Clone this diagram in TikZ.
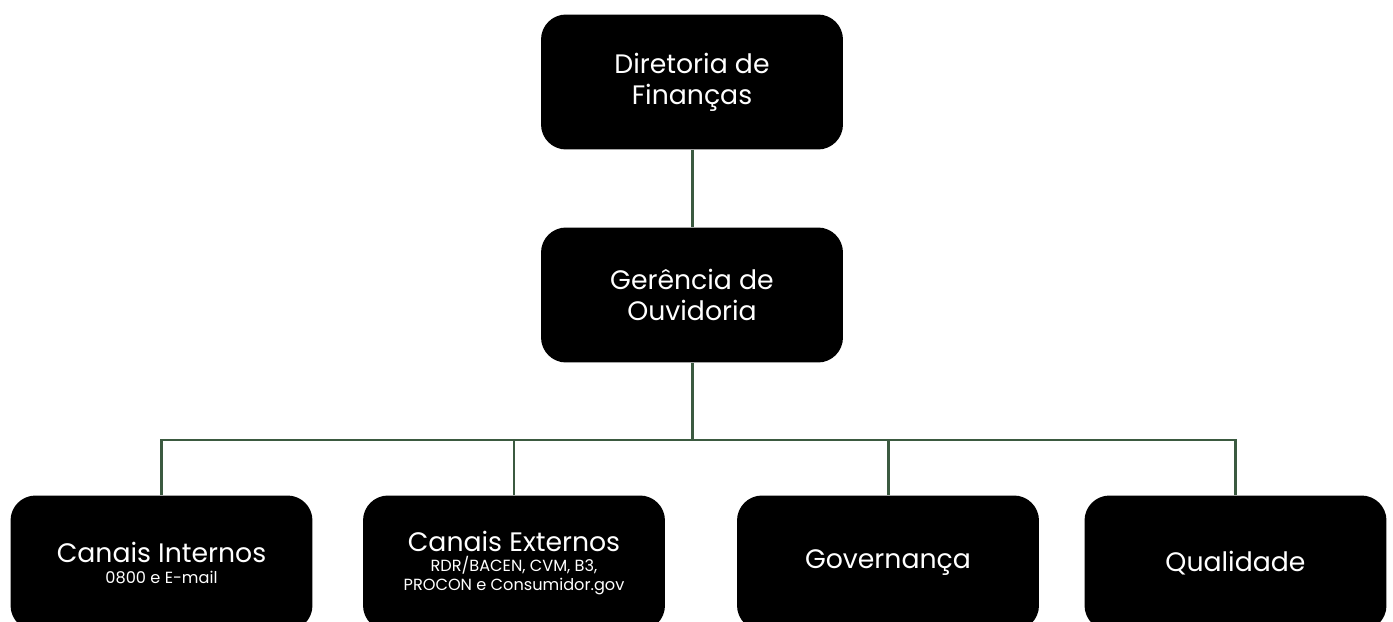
\documentclass[tikz,border=0pt]{standalone}
\usepackage{fontspec}
\setmainfont{Poppins}
\definecolor{ramo}{HTML}{3B5A40}
\newcommand{\sublinha}[1]{{\fontsize{9.2}{11}\selectfont #1}}
\begin{document}
\begin{tikzpicture}[x=0.02cm,y=-0.02cm,
    caixa/.style={fill=black,rounded corners=0.5cm,minimum width=6.04cm,minimum height=2.7cm,
        text=white,align=center,font=\fontsize{15.2}{17.5}\selectfont,inner sep=0pt},
    ligacao/.style={draw=ramo,line width=1.7pt}]
    \useasboundingbox (0,0) rectangle (1393,622);
    \node [caixa] (fin) at (692,82) {Diretoria de\\Finanças};
    \node [caixa] (ouv) at (692,295) {Gerência de\\Ouvidoria};
    \node [caixa] (ci) at (161.5,563) {Canais Internos\\[-5pt]\sublinha{0800 e E-mail}};
    \node [caixa] (ce) at (514,563) {Canais Externos\\[-6pt]\sublinha{RDR/BACEN, CVM, B3,}\\[-6.5pt]\sublinha{PROCON e Consumidor.gov}};
    \node [caixa] (gov) at (888,563) {Governança};
    \node [caixa] (qua) at (1235.5,563) {Qualidade};
    \coordinate (bus) at (692,440);
    \draw [ligacao] (fin) -- (ouv);
    \draw [ligacao] (ouv) -- (bus);
    \draw [ligacao] (ci.north) |- (bus) -| (qua.north);
    \draw [ligacao] (ce.north) -- (ce.north |- bus);
    \draw [ligacao] (gov.north) -- (gov.north |- bus);
\end{tikzpicture}
\end{document}
